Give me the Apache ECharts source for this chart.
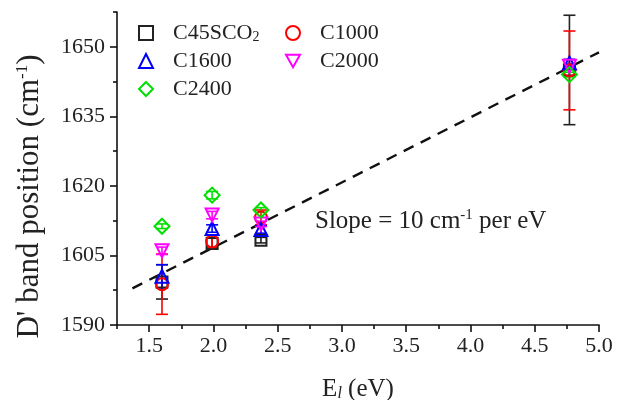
<!DOCTYPE html>
<html>
<head>
<meta charset="utf-8">
<script src="https://cdn.jsdelivr.net/npm/echarts@6/dist/echarts.min.js"></script>
<style>html,body{margin:0;padding:0;background:#fff}#c{width:633px;height:400px}</style>
</head>
<body>
<div id="c"></div>
<script>
// ---- data ----
const xValues = [1.60, 1.99, 2.37, 4.77];
const seriesNames = ['C45SCO2', 'C1000', 'C1600', 'C2000', 'C2400'];
const c45Values   = [1599.3, 1607.6, 1608.3, 1645.0];
const c45Err      = [3.7, 1.2, 0.6, 11.8];
const c1000Values = [1598.8, 1608.0, 1613.2, 1644.9];
const c1000Err    = [6.5, 1.3, 1.6, 8.5];
const c1600Values = [1600.5, 1610.8, 1610.6, 1646.5];
const c1600Err    = [2.5, 0.8, 0.8, 0.8];
const c2000Values = [1606.0, 1613.7, 1611.8, 1645.8];
const c2000Err    = [0.8, 0.8, 0.6, 0.5];
const c2400Values = [1611.3, 1618.0, 1614.8, 1644.0];
const c2400Err    = [0.5, 0.8, 0.5, 0.5];
const fitLineX = [1.37, 5.0];
const fitLineY = [1597.9, 1648.8];
const xTicks = [1.5, 2.0, 2.5, 3.0, 3.5, 4.0, 4.5, 5.0];
const xMinorTicks = [1.25, 1.75, 2.25, 2.75, 3.25, 3.75, 4.25, 4.75];
const yTicks = [1590, 1605, 1620, 1635, 1650];
const yMinorTicks = [1597.5, 1612.5, 1627.5, 1642.5, 1657.5];

const valuesList = [c45Values, c1000Values, c1600Values, c2000Values, c2400Values];
const errList = [c45Err, c1000Err, c1600Err, c2000Err, c2400Err];
const colors = ['#222222', '#ff0000', '#0000ff', '#ff00ff', '#00e000'];
const symbols = ['rect', 'circle', 'triangle', 'path://M0,0 L10,0 L5,9 Z', 'diamond'];
const sizes = [11, 12, 13, 13, 15];

const FONT = 'Liberation Serif';
const chart = echarts.init(document.getElementById('c'));

const series = [];
valuesList.forEach((vals, i) => {
  series.push({
    type: 'scatter',
    name: seriesNames[i],
    z: 3,
    symbol: symbols[i],
    symbolSize: sizes[i],
    itemStyle: { color: 'rgba(255,255,255,0)', borderColor: colors[i], borderWidth: 2, opacity: 1 },
    data: xValues.map((x, k) => [x, vals[k]])
  });
});
// error bars
valuesList.forEach((vals, i) => {
  series.push({
    type: 'custom',
    name: seriesNames[i],
    z: 2,
    data: xValues.map((x, k) => [x, vals[k] - errList[i][k], vals[k] + errList[i][k]]),
    renderItem: function (params, api) {
      const x = api.value(0);
      const lo = api.coord([x, api.value(1)]);
      const hi = api.coord([x, api.value(2)]);
      const hw = 6;
      const st = { stroke: colors[i], lineWidth: 1.6 };
      return {
        type: 'group',
        children: [
          { type: 'line', shape: { x1: lo[0], y1: lo[1], x2: hi[0], y2: hi[1] }, style: st },
          { type: 'line', shape: { x1: lo[0] - hw, y1: lo[1], x2: lo[0] + hw, y2: lo[1] }, style: st },
          { type: 'line', shape: { x1: hi[0] - hw, y1: hi[1], x2: hi[0] + hw, y2: hi[1] }, style: st }
        ]
      };
    }
  });
});
series.push({
  type: 'line',
  name: 'fit',
  z: 1,
  symbol: 'none',
  silent: true,
  lineStyle: { color: '#111', width: 2.4, type: [11, 8] },
  data: fitLineX.map((x, k) => [x, fitLineY[k]])
});

const legendText = {
  fontFamily: FONT, fontSize: 22, color: '#222', padding: [0, 0, 0, 15], lineHeight: 22,
  rich: { sub: { fontFamily: FONT, fontSize: 14, color: '#222', padding: [8, 0, 0, 0] } }
};
const legendFmt = n => n === 'C45SCO2' ? 'C45SCO{sub|2}' : n;

const axisLabelStyle = { fontFamily: FONT, fontSize: 22, color: '#222' };

chart.setOption({
  animation: false,
  backgroundColor: '#fff',
  grid: { left: 117, right: 34, top: 12, bottom: 75, containLabel: false, outerBoundsMode: 'none' },
  legend: [
    { data: ['C45SCO2', 'C1600', 'C2400'], orient: 'vertical', left: 133, top: 17, itemWidth: 14, itemHeight: 14, itemGap: 6,
      textStyle: legendText, formatter: legendFmt },
    { data: ['C1000', 'C2000'], orient: 'vertical', left: 280, top: 17, itemWidth: 14, itemHeight: 14, itemGap: 6,
      textStyle: legendText, formatter: legendFmt }
  ],
  xAxis: [
    { type: 'value', min: 1.25, max: 5.0, gridIndex: 0, position: 'bottom',
      splitLine: { show: false },
      axisLine: { lineStyle: { color: '#111', width: 1.6 } },
      axisTick: { customValues: xTicks, length: 7, lineStyle: { color: '#111', width: 1.6 } },
      axisLabel: { customValues: xTicks, margin: 10, formatter: v => v.toFixed(1), ...axisLabelStyle },
      name: 'E{sub|l} (eV)', nameLocation: 'middle', nameGap: 51,
      nameTextStyle: { fontFamily: FONT, fontSize: 25, color: '#222',
        rich: { sub: { fontFamily: FONT, fontSize: 16, fontStyle: 'italic', color: '#222', padding: [10, 0, 0, 0] } } }
    },
    { type: 'value', min: 1.25, max: 5.0, gridIndex: 0, position: 'bottom',
      splitLine: { show: false }, axisLine: { show: false }, axisLabel: { show: false },
      axisTick: { customValues: xMinorTicks, length: 4, lineStyle: { color: '#111', width: 1.6 } } }
  ],
  yAxis: [
    { type: 'value', min: 1590, max: 1657.5, position: 'left',
      splitLine: { show: false },
      axisLine: { show: true, lineStyle: { color: '#111', width: 1.6 } },
      axisTick: { show: true, customValues: yTicks, length: 7, lineStyle: { color: '#111', width: 1.6 } },
      axisLabel: { customValues: yTicks, margin: 12, formatter: v => String(v), ...axisLabelStyle },
      name: "D' band position (cm{sup|-1})", nameLocation: 'middle', nameGap: 72,
      nameTextStyle: { fontFamily: FONT, fontSize: 31, color: '#222', padding: [0, 56, 0, 0],
        rich: { sup: { fontFamily: FONT, fontSize: 17, color: '#222', padding: [0, 0, 14, 0] } } }
    },
    { type: 'value', min: 1590, max: 1657.5, position: 'left',
      splitLine: { show: false }, axisLine: { show: false }, axisLabel: { show: false },
      axisTick: { show: true, customValues: yMinorTicks, length: 4, lineStyle: { color: '#111', width: 1.6 } } }
  ],
  graphic: [
    { type: 'text', left: 315, top: 208, z: 10,
      style: { text: 'Slope = 10 cm{sup|-1} per eV', fontFamily: FONT, fontSize: 25, fill: '#222',
        rich: { sup: { fontFamily: FONT, fontSize: 15, fill: '#222', padding: [0, 0, 11, 0] } } } }
  ],
  series: series
});
</script>
</body>
</html>
